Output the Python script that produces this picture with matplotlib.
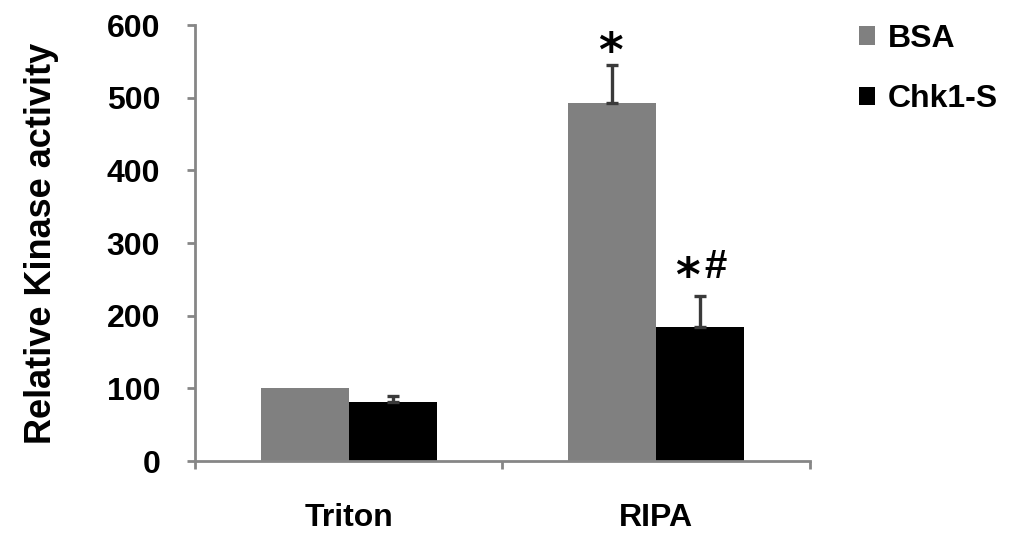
import numpy as np
import matplotlib
matplotlib.use("Agg")
import matplotlib.pyplot as plt

plt.rcParams["font.family"] = ["Liberation Sans", "DejaVu Sans"]
plt.rcParams["font.weight"] = "bold"

categories = ["Triton", "RIPA"]
series = ["BSA", "Chk1-S"]
bsa = [100, 493]
chk1 = [81, 185]
bsa_err = [np.nan, 52]
chk1_err = [8, 42]

colors = ["#808080", "#000000"]
axis_gray = "#868686"
err_color = "#3a3a3a"

fig = plt.figure(figsize=(10.1, 5.33), dpi=100)
ax = fig.add_axes([0.193, 0.135, 0.609, 0.818])

x = np.arange(len(categories))
w = 0.286
values = [bsa, chk1]
errs = [bsa_err, chk1_err]
for i, (name, vals, err) in enumerate(zip(series, values, errs)):
    pos = x + (i - 0.5) * w
    ax.bar(pos, vals, width=w, color=colors[i], label=name, zorder=2)
    ok = ~np.isnan(err)
    e = np.asarray(err)[ok]
    ax.errorbar(pos[ok], np.asarray(vals)[ok], yerr=[np.zeros(len(e)), e], fmt="none",
                ecolor=err_color, elinewidth=2.4, capsize=4.3, capthick=2.4, zorder=3)

# significance marks on RIPA (offsets in points)
top_bsa = bsa[1] + bsa_err[1]
top_chk = chk1[1] + chk1_err[1]
ax.annotate("*", (x[1] - 0.5 * w, top_bsa), xytext=(-1, -1), textcoords="offset points",
            ha="center", va="baseline", fontsize=34, fontweight="bold",
            family="DejaVu Sans")
ax.annotate("*", (x[1] + 0.5 * w, top_chk), xytext=(-9, 4), textcoords="offset points",
            ha="center", va="baseline", fontsize=34, fontweight="bold",
            family="DejaVu Sans")
ax.annotate("#", (x[1] + 0.5 * w, top_chk), xytext=(11, 13), textcoords="offset points",
            ha="center", va="baseline", fontsize=29, fontweight="bold")

ax.set_xlim(-0.5, 1.5)
ax.set_ylim(0, 600)
ax.set_yticks(range(0, 601, 100))
ax.set_xticks(x)
ax.set_xticklabels(categories, fontsize=23, fontweight="bold")
ax.set_xticks([-0.5, 0.5, 1.5], minor=True)
ax.tick_params(axis="x", which="major", length=0, pad=30)
ax.tick_params(axis="x", which="minor", length=6, width=2, color=axis_gray, direction="out")
ax.tick_params(axis="y", length=6, width=2, color=axis_gray, direction="out",
               labelsize=23, pad=19)
for lbl in ax.get_yticklabels():
    lbl.set_fontweight("bold")

ax.set_ylabel("Relative Kinase activity", fontsize=26, fontweight="bold", labelpad=34)

for s in ["top", "right"]:
    ax.spines[s].set_visible(False)
for s in ["left", "bottom"]:
    ax.spines[s].set_color(axis_gray)
    ax.spines[s].set_linewidth(2)

leg = ax.legend(loc="upper left", bbox_to_anchor=(1.059, 1.032), frameon=False,
                prop={"size": 23, "weight": "bold"}, handlelength=0.5, handleheight=0.5,
                handletextpad=0.4, labelspacing=0.95, borderaxespad=0)

fig.savefig("out.png", dpi=100)
